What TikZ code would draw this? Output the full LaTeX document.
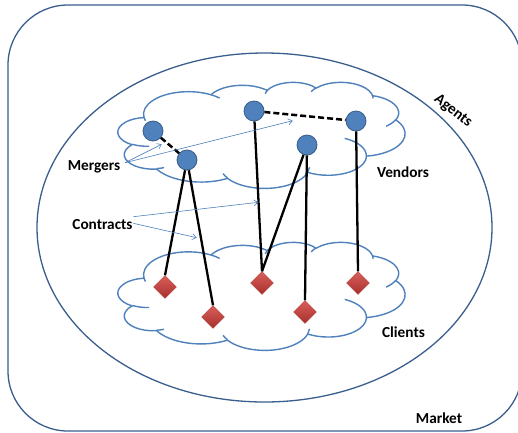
\documentclass[tikz,border=0pt]{standalone}
\usepackage{fontspec}
\setmainfont{Carlito}
\usetikzlibrary{shapes.geometric,arrows.meta}
\definecolor{cloudblue}{HTML}{4F81BD}
\definecolor{frameblue}{HTML}{3A5F8E}
\definecolor{vfill}{HTML}{4F81BD}
\definecolor{vdraw}{HTML}{385D8A}
\definecolor{ctop}{HTML}{DB5F5B}
\definecolor{cbot}{HTML}{A52F2C}
\definecolor{cdraw}{HTML}{B23E3B}
\newcommand\carc[4]{arc[x radius=#1, y radius=#2, start angle={#3+cd(#1,#2,#3)}, delta angle={#4+cd(#1,#2,#3+#4)-cd(#1,#2,#3)}]}
\newcommand\cloudmain{(39,143.7)
 \carc{67.53}{91.90}{-190.4875}{123.7805}
 \carc{53.33}{72.67}{-144.1024}{89.9452}
 \carc{43.65}{59.45}{-145.8079}{99.7230}
 \carc{48.57}{65.95}{-130.9861}{117.2417}
 \carc{53.33}{72.73}{-78.7089}{109.0269}
 \carc{67.75}{92.20}{-46.2673}{130.2690}
 \carc{57.85}{78.67}{0.6250}{114.0333}
 \carc{67.52}{92.15}{22.4516}{115.1726}
 \carc{77.20}{105.43}{66.2426}{75.7110}
 \carc{43.60}{59.18}{-274.9421}{146.7356}
 \carc{43.45}{59.45}{-246.8285}{152.5189}
 -- cycle}
\newcommand\cloudinner{
 (46.93,261.77) \carc{43.45}{59.45}{86.742}{26.4295}
 (69.28,348.99) \carc{43.60}{59.18}{73.6105}{11.4475}
 (164.78,390.90) \carc{67.52}{92.15}{137.6242}{14.0811}
 (288.27,347.51) \carc{67.52}{92.15}{6.4533}{15.9984}
 (341.29,229.54) \carc{57.85}{78.67}{-70.2924}{70.9174}
 (417.98,153.54) \carc{53.33}{72.73}{30.3180}{27.7515}
 (383.24,54.26) \carc{48.57}{65.95}{-13.7443}{14.8589}
 (290.78,39.52) \carc{48.57}{65.95}{-149.1815}{18.1954}
 (221.41,47.20) \carc{43.65}{59.45}{-163.4943}{17.6864}
 (140.00,51.92) \carc{67.53}{91.90}{-66.7070}{12.3194}
 (41.27,157.89) \carc{67.53}{91.90}{157.6544}{11.8582}}
\tikzset{
 cloudline/.style={draw=cloudblue, line width=1.4pt},
 vend/.style={circle, fill=vfill, draw=vdraw, line width=0.8pt, minimum size=20pt, inner sep=0pt},
 client/.style={diamond, top color=ctop, bottom color=cbot, draw=cdraw, line width=0.4pt, minimum width=23pt, minimum height=23pt, inner sep=0pt},
 contract/.style={black, line width=2.3pt},
 merger/.style={black, line width=2.5pt, dash pattern=on 6pt off 3pt},
 lbl/.style={font=\fontsize{15.3}{17}\selectfont\bfseries, inner sep=0pt},
 pointer/.style={draw=cloudblue, line width=0.6pt, -{Straight Barb[length=4pt,width=6pt]}}
}
\begin{document}
\begin{tikzpicture}[x=1pt, y=-1pt,
 declare function={cd(\a,\b,\t)=atan((\a/\b-1)*sin(\t)*cos(\t)/(cos(\t)*cos(\t)+(\a/\b)*sin(\t)*sin(\t)));}]
\useasboundingbox (0,0) rectangle (518,432);
\clip (0,0) rectangle (518,432);
\fill[white] (0,0) rectangle (518,432);
% market frame
\draw[frameblue, line width=1.3pt, rounded corners=60pt] (8,5) rectangle (522,431);
% agents ellipse
\draw[frameblue, line width=1.3pt, fill=white] (264.5,227.5) ellipse [x radius=227.5, y radius=174.5];
% clouds
\begin{scope}[shift={(118,82)}, x=0.6644pt, y=-0.2454pt]
 \filldraw[cloudline, fill=white] \cloudmain;
 \draw[cloudline] \cloudinner;
\end{scope}
\begin{scope}[shift={(118,242)}, x=0.6644pt, y=-0.250pt]
 \filldraw[cloudline, fill=white] \cloudmain;
 \draw[cloudline] \cloudinner;
\end{scope}
% vendors
\node[vend] (v1) at (153,131) {};
\node[vend] (v2) at (187,160) {};
\node[vend] (v3) at (254,111) {};
\node[vend] (v4) at (356,121) {};
\node[vend] (v5) at (307,145) {};
% clients
\node[client] (c1) at (165,287) {};
\node[client] (c2) at (213,317) {};
\node[client] (c3) at (262,283) {};
\node[client] (c4) at (305,312) {};
\node[client] (c5) at (358,283) {};
% contracts
\draw[contract] (v2) -- (c1.north);
\draw[contract] (v2) -- (c2.north);
\draw[contract] (v3) -- (c3.north);
\draw[contract] (v5) -- (c3.north);
\draw[contract] (v5) -- (c4.north);
\draw[contract] (v4) -- (c5.north);
% mergers
\draw[merger] (v1) -- (v2);
\draw[merger] (v3) -- (v4);
% labels
\node[lbl] (mergers) at (94,167) {Mergers};
\node[lbl] (contracts) at (102.5,225) {Contracts};
\node[lbl] (vendors) at (403,172) {Vendors};
\node[lbl] (clients) at (403.5,332) {Clients};
\node[lbl] (market) at (439,418) {Market};
\node[lbl, rotate=-38] (agents) at (453,111) {Agents};
% pointers
\coordinate (m1) at (161.7,144.3);
\coordinate (m2) at (292.7,120.7);
\coordinate (k1) at (258.3,202.3);
\coordinate (k2) at (196.7,237.7);
\coordinate (ms) at (125,162.7);
\coordinate (ks1) at (133.3,216.7);
\coordinate (ks2) at (133.3,223.3);
\draw[pointer] (ms) -- (m1);
\draw[pointer] (ms) -- (m2);
\draw[pointer] (ks1) -- (k1);
\draw[pointer] (ks2) -- (k2);
\end{tikzpicture}
\end{document}
